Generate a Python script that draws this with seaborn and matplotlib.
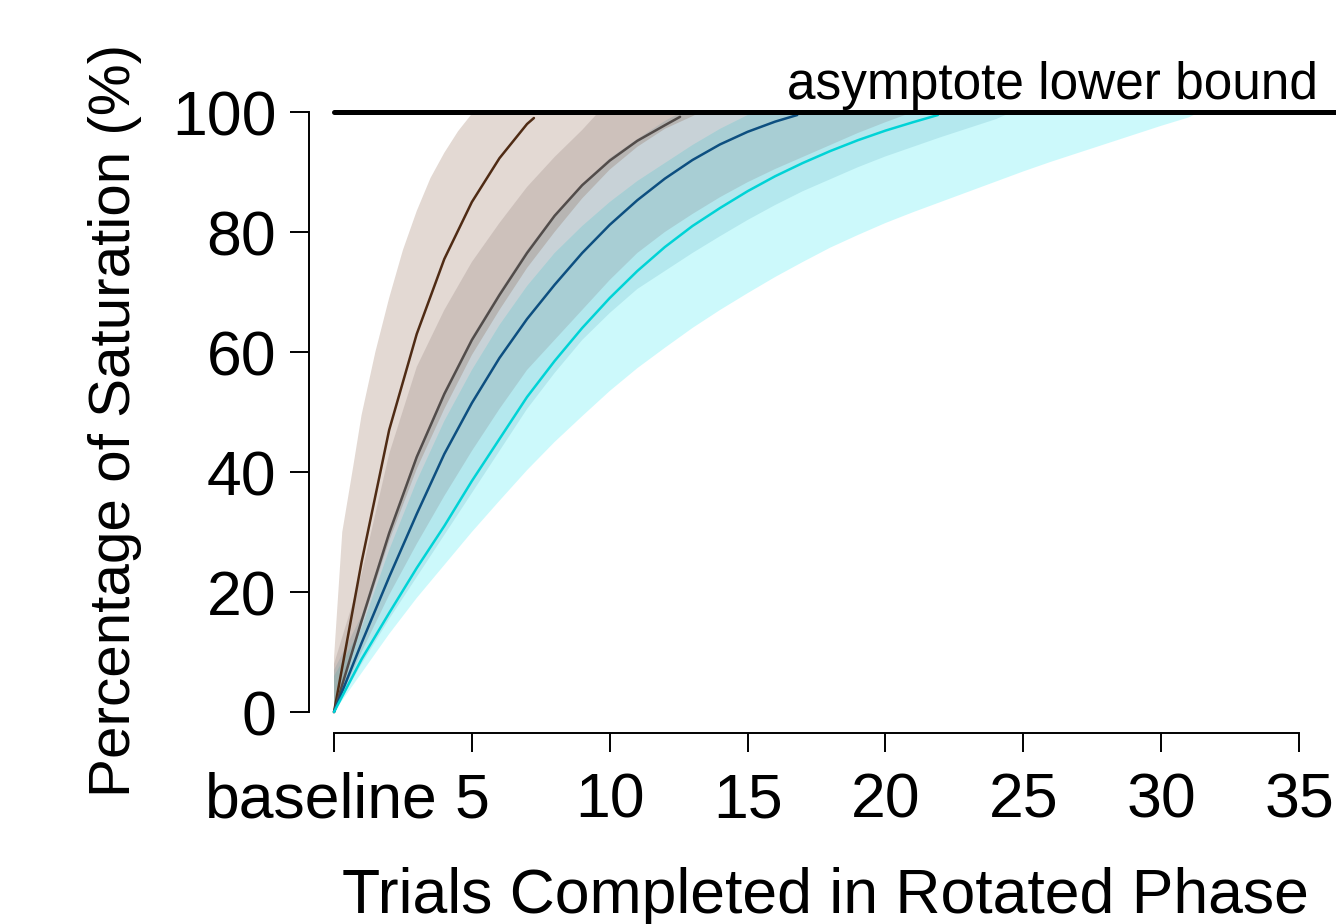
import numpy as np
import pandas as pd
import matplotlib
matplotlib.use("Agg")
import matplotlib.pyplot as plt
import matplotlib.transforms as mtransforms
import seaborn as sns

# ---------------- data ----------------
groups = ["g1", "g2", "g3", "g4"]

# mean curves
trials_g1 = [0, 1, 2, 3, 4, 5, 6, 7, 7.25]
mean_g1 = [0, 25, 47, 63, 75.5, 85, 92.3, 98, 99]

trials_g2 = [0, 1, 2, 3, 4, 5, 6, 7, 8, 9, 10, 11, 12, 12.55]
mean_g2 = [0, 15.2, 29.8, 42.5, 53, 62, 69.5, 76.5, 82.7, 87.8, 91.9, 95.2, 97.8, 99.2]

trials_g3 = [0, 1, 2, 3, 4, 5, 6, 7, 8, 9, 10, 11, 12, 13, 14, 15, 16, 16.8]
mean_g3 = [0, 11.5, 22.5, 33, 43, 51.5, 59, 65.5, 71.2, 76.5, 81.2, 85.3, 88.9,
           92.0, 94.6, 96.7, 98.4, 99.5]

trials_g4 = [0, 1, 2, 3, 4, 5, 6, 7, 8, 9, 10, 11, 12, 13, 14, 15, 16, 17, 18,
             19, 20, 21, 21.9]
mean_g4 = [0, 8.8, 16.5, 24, 31, 38.5, 45.5, 52.5, 58.5, 64, 69, 73.5, 77.5, 81,
           84, 86.8, 89.3, 91.5, 93.5, 95.3, 96.9, 98.3, 99.5]

# uncertainty bands: upper (left) edge and lower (right) edge
band_g1_upper_t = [0, 0.3, 0.7, 1, 1.5, 2, 2.5, 3, 3.5, 4, 4.5, 5.05]
band_g1_upper_v = [9, 30, 41, 49.5, 60, 69, 77, 83.5, 89, 93.2, 96.8, 100]
band_g1_lower_t = [0, 1, 2, 3, 4, 5, 6, 7, 8, 9, 10, 11, 12, 13, 13.3]
band_g1_lower_v = [0, 14.5, 28.5, 40.5, 50.5, 59.5, 67, 74, 80, 85.6, 90.4, 94.2,
                   97.2, 99.3, 100]

band_g2_upper_t = [0, 1, 2, 3, 4, 5, 6, 7, 8, 9, 9.6]
band_g2_upper_v = [8, 23, 43, 57.5, 67, 75, 81.5, 87.5, 92.5, 97, 100]
band_g2_lower_t = list(range(0, 22))
band_g2_lower_v = [0, 10, 19.5, 28, 36, 43.5, 50.5, 57, 62, 67, 72, 76.5, 80, 83,
                   85.8, 88.3, 90.5, 92.5, 94.5, 96.5, 98.3, 100]

band_g3_upper_t = [0, 1, 2, 3, 4, 5, 6, 7, 8, 9, 10, 11, 12, 12.6]
band_g3_upper_v = [7, 16, 30.5, 43, 53.5, 62.5, 70, 77, 83, 88, 92.3, 95.5, 98.5, 100]
band_g3_lower_t = list(range(0, 25)) + [24.6]
band_g3_lower_v = [0, 8, 15.5, 22.5, 29.5, 36.5, 43.5, 50.5, 56.5, 62, 66.5, 70.5,
                   73.5, 76.5, 79.3, 82, 84.5, 86.8, 88.8, 90.8, 92.6, 94.2, 95.8,
                   97.3, 98.8, 100]

band_g4_upper_t = list(range(0, 16)) + [15.3]
band_g4_upper_v = [6, 14, 27, 38.5, 48.5, 57, 64.5, 71, 76.5, 81, 85, 88.5, 91.5,
                   94.5, 97.2, 99.5, 100]
band_g4_lower_t = list(range(0, 32)) + [31.4]
band_g4_lower_v = [0, 6.5, 13, 19, 24.5, 30, 35.2, 40.3, 45, 49.3, 53.5, 57.3, 60.7,
                   64, 67, 69.8, 72.5, 75, 77.4, 79.5, 81.5, 83.3, 85, 86.7, 88.4,
                   90.1, 91.7, 93.2, 94.7, 96.2, 97.7, 99.1, 100]

asymptote = 100
x_ticks = [0, 5, 10, 15, 20, 25, 30, 35]
x_ticklabels = ["baseline", "5", "10", "15", "20", "25", "30", "35"]
y_ticks = [0, 20, 40, 60, 80, 100]
y_ticklabels = ["0", "20", "40", "60", "80", "100"]

line_colors = {"g1": "#4f2b14", "g2": "#524c4a", "g3": "#0d4f80", "g4": "#00d3d6"}
band_colors = {"g1": "#734123", "g2": "#7a6a70", "g3": "#54a8bc", "g4": "#00e5ee"}

# ---------------- figure ----------------
sns.set_style("white")
plt.rcParams["font.family"] = ["Liberation Sans", "DejaVu Sans"]
plt.rcParams["text.color"] = "black"

W, H = 1336, 924
fig = plt.figure(figsize=(W / 100, H / 100), dpi=100)
ax = fig.add_axes([309 / W, 1 - 733 / H, (W - 309) / W, 733 / H])
ax.set_xlim(-0.907, 36.34)
ax.set_ylim(-3.5, 118.67)

bands = {
    "g1": (band_g1_upper_t, band_g1_upper_v, band_g1_lower_t, band_g1_lower_v),
    "g2": (band_g2_upper_t, band_g2_upper_v, band_g2_lower_t, band_g2_lower_v),
    "g3": (band_g3_upper_t, band_g3_upper_v, band_g3_lower_t, band_g3_lower_v),
    "g4": (band_g4_upper_t, band_g4_upper_v, band_g4_lower_t, band_g4_lower_v),
}
for z, g in enumerate(reversed(groups)):
    ut, uv, lt, lv = bands[g]
    px = list(ut) + list(lt)[::-1]
    py = list(uv) + list(lv)[::-1]
    ax.fill(px, py, color=band_colors[g], alpha=0.2, lw=0, zorder=1 + z)

df = pd.concat([
    pd.DataFrame({"trial": trials_g1, "pct": mean_g1, "group": "g1"}),
    pd.DataFrame({"trial": trials_g2, "pct": mean_g2, "group": "g2"}),
    pd.DataFrame({"trial": trials_g3, "pct": mean_g3, "group": "g3"}),
    pd.DataFrame({"trial": trials_g4, "pct": mean_g4, "group": "g4"}),
], ignore_index=True)

sns.lineplot(data=df, x="trial", y="pct", hue="group", palette=line_colors,
             estimator=None, sort=False, linewidth=1.8, legend=False, ax=ax,
             zorder=10)

ax.hlines(asymptote, 0, ax.get_xlim()[1], colors="black", linewidth=3.6,
          capstyle="round", zorder=12, clip_on=False)
fig.text(1318 / W, 1 - 99 / H, "asymptote lower bound",
         ha="right", va="baseline", fontsize=37, color="black")

# axes styling (R-like)
for s in ["top", "right"]:
    ax.spines[s].set_visible(False)
for s in ["left", "bottom"]:
    ax.spines[s].set_linewidth(1.4)
    ax.spines[s].set_color("black")
ax.spines["left"].set_bounds(0, 100)
ax.spines["bottom"].set_bounds(0, 35)

ax.set_xticks(x_ticks)
ax.set_xticklabels(x_ticklabels)
ax.set_yticks(y_ticks)
ax.set_yticklabels(y_ticklabels)
ax.tick_params(axis="both", direction="out", length=13.5, width=1.4,
               colors="black", labelsize=45, bottom=True, left=True)
ax.tick_params(axis="x", pad=14)
ax.tick_params(axis="y", pad=10)
ax.set_xlabel("")
ax.set_ylabel("")

# shift "baseline" label left as in the reference
lab0 = ax.get_xticklabels()[0]
lab0.set_transform(lab0.get_transform() +
                   mtransforms.ScaledTranslation(-13 / 100, 0, fig.dpi_scale_trans))

fig.text(825 / W, 1 - 913 / H, "Trials Completed in Rotated Phase",
         ha="center", va="baseline", fontsize=45, color="black")
fig.text(115 / W, 1 - 420 / H, "Percentage of Saturation (%)",
         ha="center", va="center", rotation=90, fontsize=42, color="black")

fig.savefig("out.png", dpi=100, facecolor="white")
